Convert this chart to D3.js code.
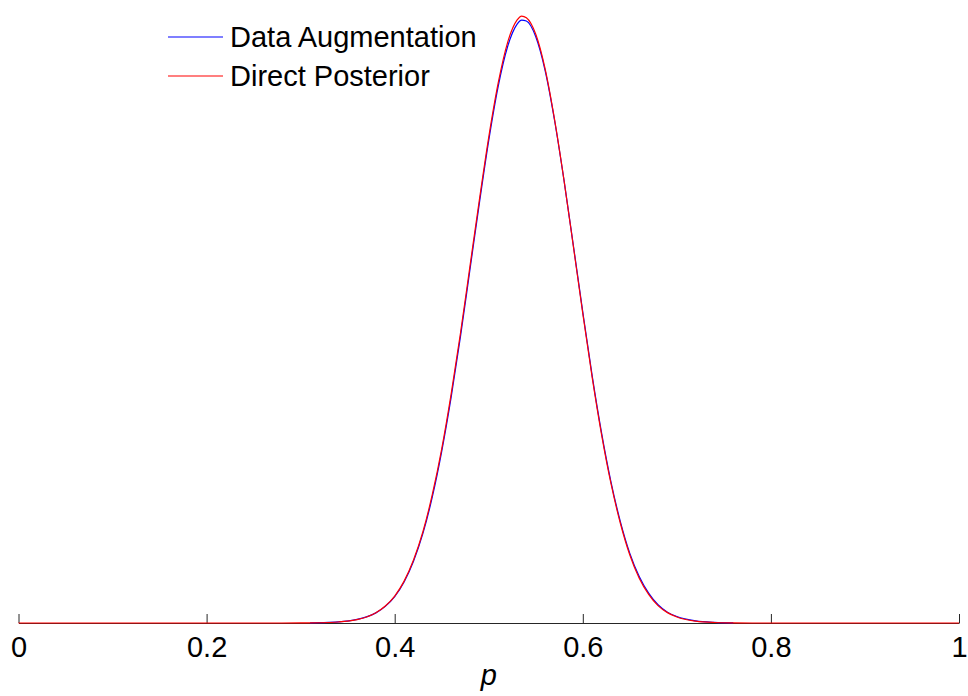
<!DOCTYPE html>
<html lang="en">
<head>
<meta charset="UTF-8">
<title>Posterior of p</title>
<style type="text/css">
body { margin: 0; background: #fff; }
svg { font-family: "Liberation Sans", Arial, sans-serif; }
.axis .domain { stroke: #262626; }
.axis .tick line { stroke: #262626; }
.axis .tick text { font-size: 29px; fill: #000; }
</style>
</head>
<body>
<script src="https://cdn.jsdelivr.net/npm/d3@7/dist/d3.min.js"></script>
<script>
// values (density of p)
var redP = [0, 0.28, 0.30, 0.32, 0.34, 0.35, 0.36, 0.37, 0.38, 0.39, 0.40, 0.41, 0.42, 0.43, 0.44, 0.45, 0.46, 0.47, 0.48, 0.49, 0.50, 0.51, 0.52, 0.53, 0.535, 0.54, 0.55, 0.56, 0.57, 0.58, 0.59, 0.60, 0.61, 0.62, 0.63, 0.64, 0.65, 0.66, 0.67, 0.68, 0.69, 0.70, 0.72, 0.74, 0.76, 0.78, 1]
var redDensity = [0, 0.0001, 0.0007, 0.003, 0.012, 0.022, 0.041, 0.072, 0.124, 0.205, 0.325, 0.505, 0.76, 1.10, 1.55, 2.10, 2.76, 3.50, 4.30, 5.10, 5.86, 6.51, 7.00, 7.27, 7.32, 7.30, 7.10, 6.68, 6.07, 5.34, 4.54, 3.73, 2.96, 2.27, 1.68, 1.20, 0.82, 0.54, 0.345, 0.21, 0.125, 0.072, 0.022, 0.006, 0.0015, 0.0003, 0]

var blueP = [0.31, 0.32, 0.34, 0.36, 0.37, 0.38, 0.39, 0.40, 0.41, 0.42, 0.43, 0.44, 0.45, 0.46, 0.47, 0.48, 0.49, 0.50, 0.51, 0.52, 0.53, 0.535, 0.54, 0.55, 0.56, 0.57, 0.58, 0.59, 0.60, 0.61, 0.62, 0.63, 0.64, 0.65, 0.66, 0.67, 0.68, 0.69, 0.70, 0.72, 0.74, 0.76]
var blueDensity = [0.001, 0.004, 0.013, 0.043, 0.074, 0.122, 0.200, 0.318, 0.495, 0.745, 1.08, 1.52, 2.07, 2.72, 3.46, 4.26, 5.06, 5.82, 6.47, 6.95, 7.22, 7.27, 7.26, 7.07, 6.66, 6.06, 5.34, 4.55, 3.75, 2.98, 2.29, 1.70, 1.22, 0.84, 0.56, 0.36, 0.22, 0.13, 0.078, 0.025, 0.007, 0.0015]

var xTicks = [0, 0.2, 0.4, 0.6, 0.8, 1]
var legendNames = ["Data Augmentation", "Direct Posterior"]
var legendColors = ["#0000ff", "#ff0000"]

var width = 968, height = 696

var x = d3.scaleLinear()
    .domain([0, 1])
    .range([18.5, 959])

var y = d3.scaleLinear()
    .domain([0, 7.5])
    .range([623, 1.1])

var svg = d3.select("body").append("svg")
    .attr("width", width)
    .attr("height", height)

svg.append("g")
    .attr("class", "axis axis--x")
    .attr("transform", "translate(0,623)")
    .call(d3.axisBottom(x)
        .tickValues(xTicks)
        .tickFormat(function (d) { return String(d) })
        .tickSizeInner(-9)
        .tickSizeOuter(0)
        .tickPadding(13))

svg.append("text")
    .attr("x", (x(0) + x(1)) / 2)
    .attr("y", 685)
    .attr("text-anchor", "middle")
    .style("font-size", "29px")
    .style("font-style", "italic")
    .text("p")

var line = d3.line()
    .x(function (d) { return x(d[0]) })
    .y(function (d) { return y(d[1]) })
    .curve(d3.curveMonotoneX)

var blue = d3.zip(blueP, blueDensity)
var red = d3.zip(redP, redDensity)

svg.append("path")
    .datum(blue)
    .attr("fill", "none")
    .attr("stroke", legendColors[0])
    .attr("stroke-width", 1.2)
    .attr("d", line)

svg.append("path")
    .datum(red)
    .attr("fill", "none")
    .attr("stroke", legendColors[1])
    .attr("stroke-width", 1.2)
    .attr("d", line)

// legend: one row per series, sample line then label
legendNames.forEach(function (name, i) {
    var row = svg.append("g")
        .attr("transform", "translate(0," + (i * 39) + ")")
    row.append("path")
        .attr("d", "M168,37H223")
        .attr("fill", "none")
        .attr("stroke", legendColors[i])
        .attr("stroke-width", 1.2)
    row.append("text")
        .attr("x", 230)
        .attr("y", 47)
        .style("font-size", "29px")
        .text(name)
})
</script>
</body>
</html>
